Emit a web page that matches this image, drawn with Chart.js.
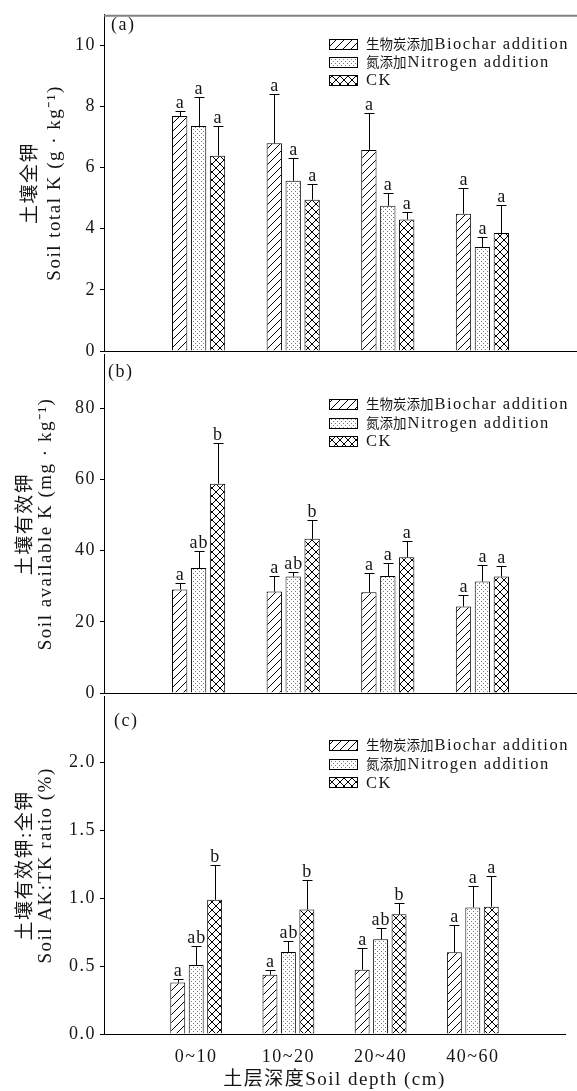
<!DOCTYPE html>
<html>
<head>
<meta charset="utf-8">
<script src="https://cdn.jsdelivr.net/npm/chart.js@4.4.1/dist/chart.umd.min.js"></script>
<style>
    html, body { margin: 0; padding: 0; background: #fff; }
    body { width: 577px; height: 1091px; position: relative; overflow: hidden; }
    canvas { position: absolute; left: 0; }
    #chartA { top: 0; }
    #chartB { top: 340px; }
    #chartC { top: 682px; }
</style>
</head>
<body>
<canvas id="chartA" width="577" height="372"></canvas>
<canvas id="chartB" width="577" height="374"></canvas>
<canvas id="chartC" width="577" height="409"></canvas>
<script>
// --- Data ---
const depthLabels = ['0~10', '10~20', '20~40', '40~60'];
const seriesNames = ['生物炭添加Biochar addition', '氮添加Nitrogen addition', 'CK'];

// (a) soil total K, g/kg
const tkBiochar = [7.69, 6.80, 6.58, 4.49];
const tkNitrogen = [7.36, 5.57, 4.75, 3.40];
const tkCK = [6.39, 4.95, 4.30, 3.86];
const tkBiocharErr = [0.16, 1.61, 1.22, 0.83];
const tkNitrogenErr = [0.95, 0.74, 0.42, 0.32];
const tkCKErr = [0.97, 0.52, 0.26, 0.91];
const tkLetters = [['a', 'a', 'a', 'a'], ['a', 'a', 'a', 'a'], ['a', 'a', 'a', 'a']];
const tkTicks = [0, 2, 4, 6, 8, 10];

// (b) soil available K, mg/kg
const akBiochar = [29.1, 28.5, 28.3, 24.3];
const akNitrogen = [35.1, 32.7, 32.9, 31.3];
const akCK = [58.8, 43.3, 38.1, 32.7];
const akBiocharErr = [1.7, 4.5, 5.3, 3.2];
const akNitrogenErr = [4.9, 1.4, 3.7, 4.7];
const akCKErr = [11.3, 5.3, 4.7, 3.0];
const akLetters = [['a', 'a', 'a', 'a'], ['ab', 'ab', 'a', 'a'], ['b', 'b', 'a', 'a']];
const akTicks = [0, 20, 40, 60, 80];

// (c) AK:TK ratio, %
const ratioBiochar = [0.378, 0.436, 0.473, 0.601];
const ratioNitrogen = [0.507, 0.604, 0.696, 0.931];
const ratioCK = [0.987, 0.916, 0.880, 0.936];
const ratioBiocharErr = [0.027, 0.037, 0.162, 0.20];
const ratioNitrogenErr = [0.138, 0.082, 0.080, 0.160];
const ratioCKErr = [0.254, 0.219, 0.085, 0.225];
const ratioLetters = [['a', 'a', 'a', 'a'], ['ab', 'ab', 'ab', 'a'], ['b', 'b', 'b', 'a']];
const ratioTicks = [0, 0.5, 1.0, 1.5, 2.0];

const SERIF = '"Liberation Serif", "Noto Sans CJK SC", serif';
const TEXT = '#151515';

// --- Fill patterns (hatch / dots / cross-hatch) ---
function makePattern(kind) {
    const tile = document.createElement('canvas');
    const s = kind === 'dots' ? 4 : 8;
    tile.width = s;
    tile.height = s;
    const g = tile.getContext('2d');
    g.fillStyle = '#fff';
    g.fillRect(0, 0, s, s);
    g.strokeStyle = '#000';
    g.lineWidth = 1;
    if (kind === 'hatch' || kind === 'cross') {
        g.beginPath();
        g.moveTo(-1, s + 1); g.lineTo(s + 1, -1);
        g.moveTo(-1, 1); g.lineTo(1, -1);
        g.moveTo(s - 1, s + 1); g.lineTo(s + 1, s - 1);
        g.stroke();
    }
    if (kind === 'cross') {
        g.beginPath();
        g.moveTo(-1, -1); g.lineTo(s + 1, s + 1);
        g.moveTo(s - 1, -1); g.lineTo(s + 1, 1);
        g.moveTo(-1, s - 1); g.lineTo(1, s + 1);
        g.stroke();
    }
    if (kind === 'dots') {
        g.fillStyle = '#7a7a7a';
        g.fillRect(1, 1, 1, 1);
        g.fillRect(3, 3, 1, 1);
    }
    return g.createPattern(tile, 'repeat');
}
const patterns = [makePattern('hatch'), makePattern('dots'), makePattern('cross')];

function drawMixedText(ctx, text, x, y) {
    const runs = text.match(/[\u4e00-\u9fff]+|[^\u4e00-\u9fff]+/g);
    ctx.textAlign = 'left';
    ctx.textBaseline = 'middle';
    ctx.fillStyle = TEXT;
    runs.forEach(run => {
        const cjk = /[\u4e00-\u9fff]/.test(run);
        ctx.font = cjk ? '13.5px "Noto Sans CJK SC"' : '16.5px "Liberation Serif"';
        ctx.letterSpacing = cjk ? '0px' : '1.5px';
        ctx.fillText(run, x, cjk ? y : y + 1);
        x += ctx.measureText(run).width + (cjk ? 1 : 0);
    });
}

// --- Error bars, letters, legend, panel tag ---
const decorPlugin = {
    id: 'decor',
    beforeDraw(chart) {
        chart.ctx.letterSpacing = '1.5px';
    },
    afterDatasetsDraw(chart) {
        const ctx = chart.ctx;
        const yScale = chart.scales.y;
        ctx.save();
        ctx.strokeStyle = '#000';
        ctx.lineWidth = 1;
        ctx.fillStyle = TEXT;
        ctx.font = '18px "Liberation Serif"';
        ctx.letterSpacing = '1px';
        ctx.textAlign = 'center';
        ctx.textBaseline = 'alphabetic';
        chart.data.datasets.forEach((ds, i) => {
            const meta = chart.getDatasetMeta(i);
            ds.data.forEach((v, j) => {
                if (v === null) return;
                const bar = meta.data[j];
                const x = Math.round(bar.x) + 0.5;
                const top = Math.round(yScale.getPixelForValue(v + ds.errorBars[j])) + 0.5;
                ctx.beginPath();
                ctx.moveTo(x, bar.y);
                ctx.lineTo(x, top);
                ctx.moveTo(x - 5, top);
                ctx.lineTo(x + 5, top);
                ctx.stroke();
                ctx.fillText(ds.sigLetters[j], bar.x + 0.5, top - 4);
            });
        });
        ctx.restore();
    },
    afterDraw(chart) {
        const o = chart.options.plugins.decor;
        const ctx = chart.ctx;
        const area = chart.chartArea;
        ctx.save();
        if (o.topLine) {
            ctx.strokeStyle = '#808080';
            ctx.lineWidth = 2;
            ctx.beginPath();
            ctx.moveTo(area.left, area.top + 1);
            ctx.lineTo(area.right, area.top + 1);
            ctx.stroke();
        }
        ctx.fillStyle = TEXT;
        ctx.font = '18px "Liberation Serif"';
        ctx.letterSpacing = '1.5px';
        ctx.textAlign = 'left';
        ctx.textBaseline = 'middle';
        ctx.fillText(o.tag, o.tagX, o.tagY);

        chart.data.datasets.forEach((ds, i) => {
            const y = o.legendY + i * o.legendStep;
            const by = Math.round(y - 5) + 0.5;
            ctx.fillStyle = ds.backgroundColor;
            ctx.fillRect(329.5, by, 28, 10);
            ctx.strokeStyle = '#000';
            ctx.lineWidth = 1;
            ctx.strokeRect(329.5, by, 28, 10);
            drawMixedText(ctx, ds.label, 366, y);
        });
        ctx.restore();
    }
};

function buildPanel(canvasId, panel) {
    const padded = arr => [null, ...arr, null];
    const ctx = document.getElementById(canvasId).getContext('2d');
    return new Chart(ctx, {
        type: 'bar',
        data: {
            labels: ['', ...depthLabels, ''],
            datasets: panel.values.map((vals, i) => ({
                label: seriesNames[i],
                data: padded(vals),
                errorBars: padded(panel.errors[i]),
                sigLetters: padded(panel.letters[i]),
                backgroundColor: patterns[i],
                borderColor: '#000',
                borderWidth: 1,
                categoryPercentage: 0.6,
                barPercentage: 0.81
            }))
        },
        options: {
            responsive: false,
            animation: false,
            events: [],
            layout: { padding: { top: panel.padTop, left: 0, right: 0, bottom: 0 } },
            plugins: {
                legend: { display: false },
                tooltip: { enabled: false },
                decor: panel.decor
            },
            scales: {
                x: {
                    type: 'category',
                    offset: false,
                    z: 1,
                    grid: { display: false, drawTicks: false },
                    border: { color: '#000', width: 1 },
                    ticks: {
                        display: panel.showX,
                        autoSkip: false,
                        maxRotation: 0,
                        padding: 12,
                        color: TEXT,
                        font: { family: SERIF, size: 18 }
                    },
                    title: {
                        display: panel.showX,
                        text: '土层深度Soil depth (cm)',
                        color: TEXT,
                        font: { family: SERIF, size: 19 },
                        padding: { top: 0, bottom: 0 }
                    },
                    afterFit: s => { s.height = panel.xHeight; }
                },
                y: {
                    min: 0,
                    max: panel.max,
                    z: 1,
                    afterBuildTicks: s => { s.ticks = panel.ticks.map(v => ({ value: v })); },
                    grid: { drawOnChartArea: false, drawTicks: true, tickLength: 4, color: '#000' },
                    border: { color: '#000', width: 1 },
                    ticks: {
                        padding: 4,
                        color: TEXT,
                        font: { family: SERIF, size: 18 },
                        callback: panel.format
                    },
                    title: {
                        display: true,
                        text: panel.yTitle,
                        color: TEXT,
                        font: { family: SERIF, size: 19, lineHeight: panel.titleLine },
                        padding: { top: panel.titlePad, bottom: 0 }
                    },
                    afterFit: s => { s.width = 104; }
                }
            }
        },
        plugins: [decorPlugin]
    });
}

buildPanel('chartA', {
    values: [tkBiochar, tkNitrogen, tkCK],
    errors: [tkBiocharErr, tkNitrogenErr, tkCKErr],
    letters: tkLetters,
    ticks: tkTicks,
    max: 11,
    padTop: 9,
    xHeight: 21,
    showX: false,
    format: v => String(v),
    yTitle: ['土壤全钾', 'Soil total K (g · kg⁻¹)'],
    titleLine: '24px',
    titlePad: 19,
    decor: { topLine: true, tag: '(a)', tagX: 111, tagY: 25, legendY: 44, legendStep: 18 }
});

buildPanel('chartB', {
    values: [akBiochar, akNitrogen, akCK],
    errors: [akBiocharErr, akNitrogenErr, akCKErr],
    letters: akLetters,
    ticks: akTicks,
    max: 95,
    padTop: 11,
    xHeight: 21,
    showX: false,
    format: v => String(v),
    yTitle: ['土壤有效钾', 'Soil available K (mg · kg⁻¹)'],
    titleLine: '20px',
    titlePad: 16,
    decor: { topLine: false, tag: '(b)', tagX: 108, tagY: 32, legendY: 64, legendStep: 18.5 }
});

buildPanel('chartC', {
    values: [ratioBiochar, ratioNitrogen, ratioCK],
    errors: [ratioBiocharErr, ratioNitrogenErr, ratioCKErr],
    letters: ratioLetters,
    ticks: ratioTicks,
    max: 2.48,
    padTop: 11,
    xHeight: 57,
    showX: true,
    format: v => Number(v).toFixed(1),
    yTitle: ['土壤有效钾:全钾', 'Soil AK:TK ratio (%)'],
    titleLine: '20px',
    titlePad: 16,
    decor: { topLine: false, tag: '(c)', tagX: 114, tagY: 39, legendY: 63, legendStep: 18.7 }
});
</script>
</body>
</html>
